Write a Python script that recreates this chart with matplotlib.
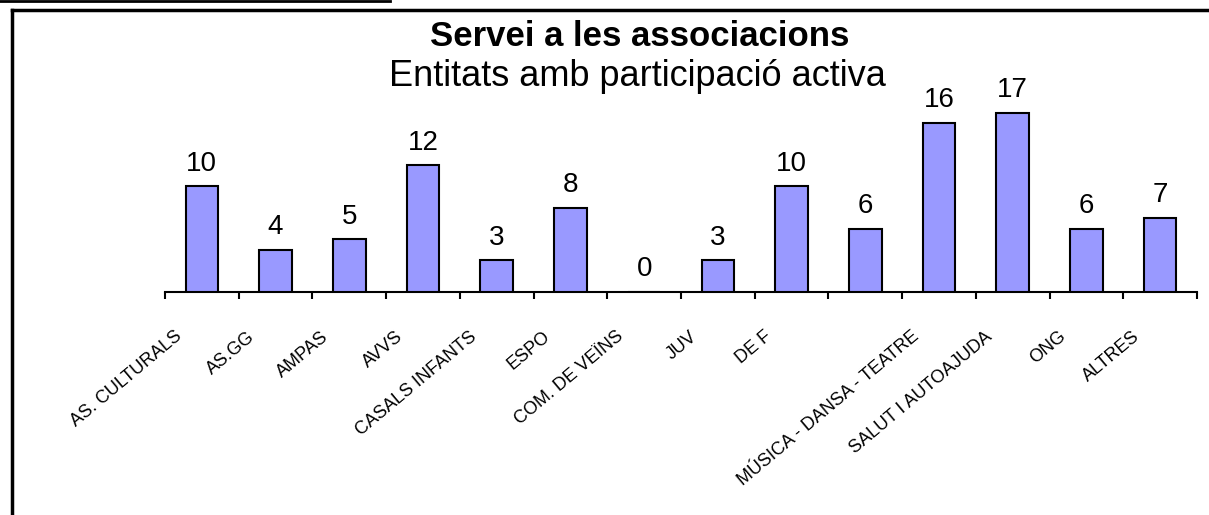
import numpy as np
import matplotlib.pyplot as plt
from matplotlib.lines import Line2D
import matplotlib.transforms as mtransforms

plt.rcParams['font.family'] = ['Liberation Sans', 'DejaVu Sans']

categories = ['AS. CULTURALS', 'AS.GG', 'AMPAS', 'AVVS', 'CASALS INFANTS', 'ESPO',
              'COM. DE VEÏNS', 'JUV', 'DE F', '', 'MÚSICA - DANSA - TEATRE',
              'SALUT I AUTOAJUDA', 'ONG', 'ALTRES']
valors = [10, 4, 5, 12, 3, 8, 0, 3, 10, 6, 16, 17, 6, 7]

fig = plt.figure(figsize=(12.09, 5.15), dpi=100)
ax = fig.add_axes([165/1209, 223/515, 1032/1209, 190/515])

x = np.arange(len(valors))
bars = ax.bar(x, valors, 0.44, color='#9999ff', edgecolor='black', linewidth=1.5, zorder=3)

ax.set_xlim(-0.5, len(valors) - 0.5)
ax.set_ylim(0, 18)
for s in ['top', 'right', 'left']:
    ax.spines[s].set_visible(False)
ax.spines['bottom'].set_linewidth(1.5)
ax.set_yticks([])
ax.set_xticks(np.arange(len(valors) + 1) - 0.5)
ax.set_xticklabels([])
ax.tick_params(axis='x', direction='out', length=5, width=1.5)

for b, v in zip(bars, valors):
    ax.annotate(str(v), xy=(b.get_x() + b.get_width() / 2, v), xytext=(0, 7),
                textcoords='offset points', ha='center', va='bottom', fontsize=20)

# etiquetes de categoria en diagonal
off = mtransforms.ScaledTranslation(-28/100, -36/100, fig.dpi_scale_trans)
trans = mtransforms.blended_transform_factory(ax.transData, ax.transAxes) + off
for i, lab in enumerate(categories):
    ax.text(i, 0, lab, transform=trans, rotation=40, ha='right', va='top',
            rotation_mode='anchor', fontsize=13)

fig.text(640/1209, 1 - 37/515, 'Servei a les associacions', ha='center', va='center',
         fontsize=25, fontweight='bold')
fig.text(637/1209, 1 - 77/515, 'Entitats amb participació activa', ha='center', va='center',
         fontsize=26)

# marc del document
fig.add_artist(Line2D([12/1209, 12/1209], [0, 1 - 10/515], color='black', lw=2.5, transform=fig.transFigure))
fig.add_artist(Line2D([12/1209, 1], [1 - 10/515, 1 - 10/515], color='black', lw=2.5, transform=fig.transFigure))
fig.add_artist(Line2D([0, 390/1209], [1 - 1/515, 1 - 1/515], color='black', lw=2, transform=fig.transFigure))

fig.savefig('out.png', dpi=100)
